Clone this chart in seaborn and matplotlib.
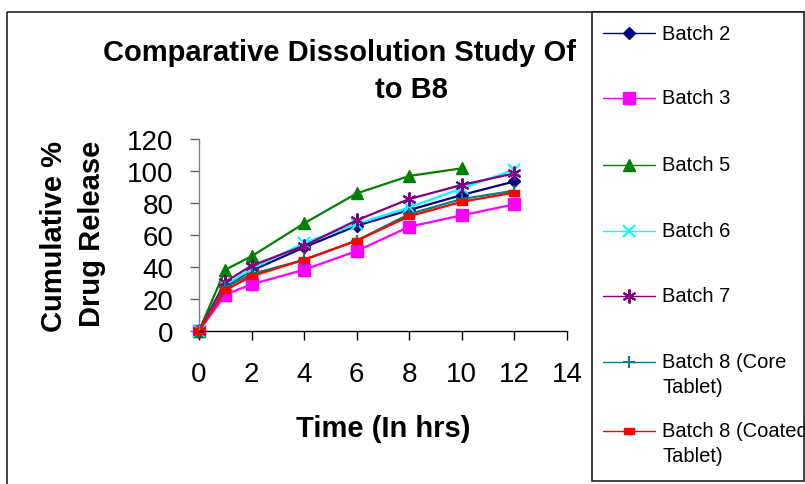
import numpy as np
import pandas as pd
import matplotlib
matplotlib.use("Agg")
import matplotlib.pyplot as plt
from matplotlib.patches import Rectangle
import seaborn as sns

sns.set_theme(style="white")
plt.rcParams['font.family'] = ['Liberation Sans', 'DejaVu Sans']
plt.rcParams['text.color'] = 'black'
plt.rcParams['xtick.color'] = 'black'
plt.rcParams['ytick.color'] = 'black'

time_hrs = [0, 1, 2, 4, 6, 8, 10, 12]
batch2 = [0, 28.3, 37.7, 52.3, 65.8, 75.6, 85.0, 93.5]
batch3 = [0, 22.7, 29.2, 38.3, 50.0, 65.2, 72.3, 79.2]
batch5 = [0, 38.3, 46.7, 67.3, 86.0, 96.9, 101.7, np.nan]
batch6 = [0, 28.8, 38.8, 55.0, 66.9, 77.3, 89.2, 100.8]
batch7 = [0, 30.8, 40.8, 53.3, 69.2, 82.5, 91.3, 98.5]
batch8_core = [0, 27.3, 35.6, 44.4, 56.5, 73.1, 82.5, 87.7]
batch8_coated = [0, 25.6, 34.2, 44.6, 56.5, 71.7, 80.8, 86.5]

series_names = ["Batch 2", "Batch 3", "Batch 5", "Batch 6", "Batch 7",
                "Batch 8 (Core Tablet)", "Batch 8 (Coated Tablet)"]
legend_lines = [["Batch 2"], ["Batch 3"], ["Batch 5"], ["Batch 6"], ["Batch 7"],
                ["Batch 8 (Core", "Tablet)"], ["Batch 8 (Coated", "Tablet)"]]
series_values = [batch2, batch3, batch5, batch6, batch7, batch8_core, batch8_coated]

x_ticks = [0, 2, 4, 6, 8, 10, 12, 14]
y_ticks = [0, 20, 40, 60, 80, 100, 120]

rect_marker = [(-1, -0.6), (1, -0.6), (1, 0.6), (-1, 0.6), (-1, -0.6)]
styles = [
    dict(color="#000080", marker="D", ms=6.0, mew=1.0),
    dict(color="#FF00FF", marker="s", ms=8.0, mew=1.0),
    dict(color="#008000", marker="^", ms=9.0, mew=1.0),
    dict(color="#00FFFF", marker="x", ms=8.5, mew=1.5),
    dict(color="#800080", marker=(6, 2, 0), ms=10.0, mew=1.5),
    dict(color="#008080", marker="+", ms=9.0, mew=1.5),
    dict(color="#FF0000", marker=rect_marker, ms=7.0, mew=1.0),
]

rows = []
for name, vals in zip(series_names, series_values):
    for t, v in zip(time_hrs, vals):
        rows.append((name, t, v))
df = pd.DataFrame(rows, columns=["batch", "time", "release"]).dropna()

W, H = 805, 485
fig = plt.figure(figsize=(W / 100, H / 100), dpi=100)
fig.patch.set_facecolor("white")

# overlay for frame / legend / title (figure pixel coordinates)
ov = fig.add_axes([0, 0, 1, 1], zorder=0)
ov.set_xlim(0, W)
ov.set_ylim(H, 0)
ov.axis("off")
ov.add_patch(Rectangle((7, 13), 900, 600, fill=False, edgecolor="#222222", lw=1.2))

ax = fig.add_axes([199 / W, 1 - 332 / H, (567 - 199) / W, (332 - 140) / H], zorder=2)
ax.set_facecolor("none")

for name, st in zip(series_names, styles):
    sub = df[df["batch"] == name]
    sns.lineplot(data=sub, x="time", y="release", ax=ax, color=st["color"],
                 marker=st["marker"], markersize=st["ms"], markeredgewidth=st["mew"],
                 markeredgecolor=st["color"], markerfacecolor=st["color"],
                 linewidth=1.6, estimator=None, sort=False, legend=False,
                 clip_on=False)

ax.set_xlim(0, 14)
ax.set_ylim(0, 120)
ax.set_xticks(x_ticks)
ax.set_yticks(y_ticks)
ax.set_xticklabels([str(v) for v in x_ticks])
ax.set_yticklabels([str(v) for v in y_ticks])
ax.set_xlabel("")
ax.set_ylabel("")
for s in ["top", "right"]:
    ax.spines[s].set_visible(False)
ax.spines["bottom"].set_color("black")
ax.spines["bottom"].set_linewidth(1.0)
ax.spines["left"].set_color("#808080")
ax.spines["left"].set_linewidth(1.0)
ax.tick_params(axis="x", direction="out", length=6.5, width=1, color="black",
               labelsize=20, labelcolor="black", pad=15, bottom=True)
ax.tick_params(axis="y", direction="out", length=6.5, width=1, color="#606060",
               labelsize=20, labelcolor="black", pad=12, left=True)
ax.grid(False)

# axis titles
ov.text(383, 437, "Time (In hrs)", fontsize=21, fontweight="bold",
        ha="center", va="baseline", color="black")
ov.text(68, 236, "Cumulative %", fontsize=21, fontweight="bold",
        rotation=90, ha="right", va="center", color="black")
ov.text(106, 234, "Drug Release", fontsize=21, fontweight="bold",
        rotation=90, ha="right", va="center", color="black")

# title
ov.text(103, 61, "Comparative Dissolution Study Of", fontsize=21, fontweight="bold",
        ha="left", va="baseline", color="black")
ov.text(375, 98, "to B8", fontsize=21, fontweight="bold", ha="left", va="baseline",
        color="black")

# legend
ov.add_patch(Rectangle((592, 13), 212, 469, facecolor="white", edgecolor="#222222",
                       lw=1.2, zorder=3))
entry_y = [34, 99, 166, 232, 297, 363, 432]
for lines, st, y in zip(legend_lines, styles, entry_y):
    ov.plot([603, 655], [y, y], color=st["color"], lw=1.0, zorder=4)
    ov.plot([629], [y], linestyle="none", marker=st["marker"],
            markersize=st["ms"], markeredgewidth=st["mew"],
            color=st["color"], zorder=5)
    for i, line in enumerate(lines):
        ov.text(662, y + i * 25, line, fontsize=14.5, ha="left", va="center",
                zorder=5, clip_on=False, color="black")

fig.savefig("out.png", dpi=100)
